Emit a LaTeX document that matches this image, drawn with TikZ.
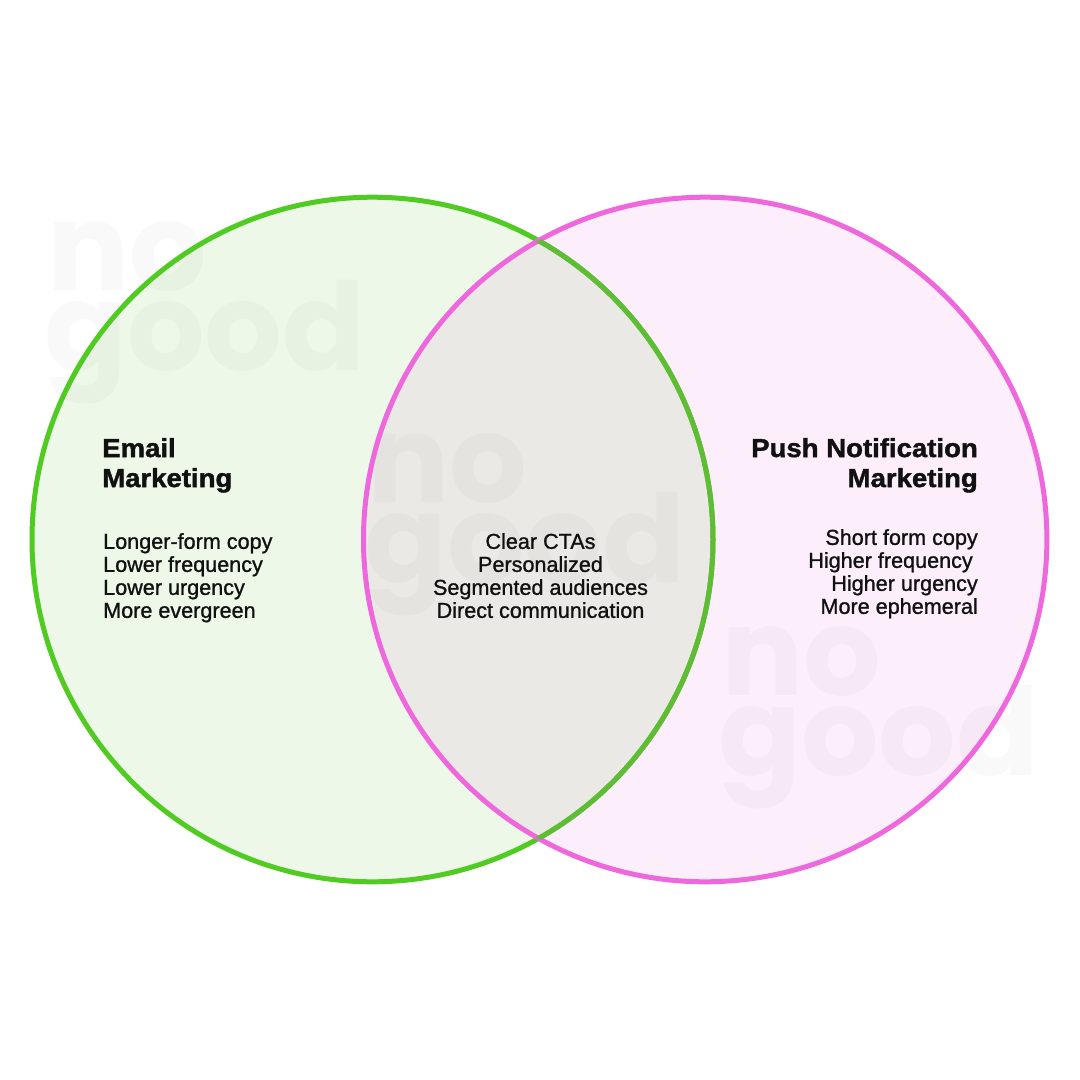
\documentclass[tikz,border=0pt]{standalone}
\usepackage{fontspec}
\setmainfont{Liberation Sans}
\newfontfamily\itemfont{Liberation Sans}[FakeBold=1.1]
\newfontfamily\titlefont{Liberation Sans Bold}[FakeBold=1.6,FakeStretch=1.06]
\newfontfamily\markfont{Poppins Bold}
\definecolor{emailgreen}{HTML}{4FCB22}
\definecolor{emailfill}{HTML}{EDF8E9}
\definecolor{pushpink}{HTML}{EE67DC}
\definecolor{pushfill}{HTML}{FCEFFB}
\definecolor{bothfill}{HTML}{EBE9E5}
\definecolor{bothgreen}{HTML}{5EBD34}
\definecolor{inktext}{HTML}{111111}
\tikzset{
  titletext/.style={inner sep=0pt,text=inktext,font=\titlefont\fontsize{26}{30}\selectfont},
  itemtext/.style={inner sep=0pt,text=inktext,font=\itemfont\fontsize{21.6}{23}\selectfont},
  marktext/.style={inner sep=0pt,anchor=base west,black,opacity=0.025,font=\markfont\fontsize{122}{122}\selectfont},
}
\begin{document}
\begin{tikzpicture}[x=1pt,y=-1pt]
\useasboundingbox (0,0) rectangle (1080,1080);
\coordinate (emailc) at (372.5,539.5);
\coordinate (pushc) at (705.2,539.5);
% fills of the two circles and of the overlap
\fill[emailfill] (emailc) ellipse (340.5 and 342.3);
\fill[pushfill] (pushc) ellipse (341.7 and 342.3);
\begin{scope}
\clip (emailc) ellipse (340.5 and 342.3);
\fill[bothfill] (pushc) ellipse (341.7 and 342.3);
\end{scope}
% faint marks
\node[marktext] (marka) at (47,290) {no};
\node[marktext] (markb) at (44,370) {good};
\node[marktext] (markc) at (367,502) {no};
\node[marktext] (markd) at (364,582) {good};
\node[marktext] (marke) at (721,695) {no};
\node[marktext] (markf) at (718,775) {good};
% outlines
\draw[emailgreen,line width=5pt] (emailc) ellipse (340.5 and 342.3);
\draw[pushpink,line width=5pt] (pushc) ellipse (341.7 and 342.3);
\begin{scope}
\clip (pushc) ellipse (341.7 and 342.3);
\draw[bothgreen,line width=5pt] (emailc) ellipse (340.5 and 342.3);
\end{scope}
% titles
\node[titletext,anchor=north west,align=left] (emailtitle) at (102,438) {Email\\Marketing};
\node[titletext,anchor=north east,align=right] (pushtitle) at (978,438) {Push Notification\\Marketing};
% lists
\node[itemtext,anchor=north west,align=left] (emaillist) at (103,533) {Longer-form copy\\Lower frequency\\Lower urgency\\More evergreen};
\node[itemtext,anchor=north,align=center] (bothlist) at (540.5,533) {Clear CTAs\\Personalized\\Segmented audiences\\Direct communication};
\node[itemtext,anchor=north east,align=right] (pushlist) at (978,529) {Short form copy\\Higher frequency\hspace{5pt}\mbox{}\\Higher urgency\\More ephemeral};
\end{tikzpicture}
\end{document}
